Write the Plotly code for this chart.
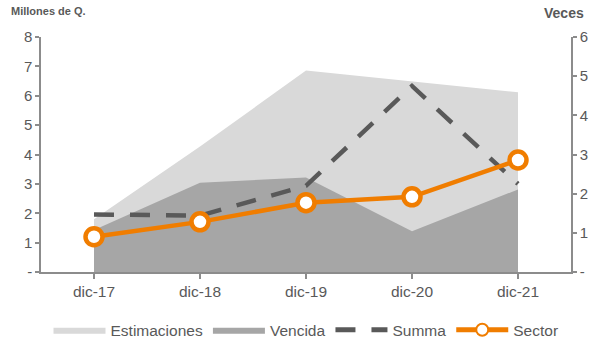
import plotly.graph_objects as go

# Periods and series
periodos = ["dic-17", "dic-18", "dic-19", "dic-20", "dic-21"]
estimaciones = [1.8, 4.27, 6.86, 6.49, 6.12]   # Millones de Q.
vencida = [1.43, 3.04, 3.22, 1.39, 2.81]       # Millones de Q.
summa = [1.47, 1.44, 2.2, 4.75, 2.25]          # Veces
sector = [0.9, 1.28, 1.77, 1.92, 2.86]         # Veces

left_ticks = [0, 1, 2, 3, 4, 5, 6, 7, 8]
left_labels = ["-", "1", "2", "3", "4", "5", "6", "7", "8"]
right_ticks = [0, 1, 2, 3, 4, 5, 6]
right_labels = ["-", "1", "2", "3", "4", "5", "6"]

GRIS_TEXTO = "#595959"
GRIS_EJE = "#8C8C8C"
NARANJA = "#F07D00"
FONT = "Liberation Sans, Arial, sans-serif"

fig = go.Figure()

fig.add_trace(go.Scatter(
    x=periodos, y=estimaciones, name="Estimaciones", mode="lines",
    fill="tozeroy", fillcolor="#D9D9D9", line=dict(width=0, color="#D9D9D9"),
))
fig.add_trace(go.Scatter(
    x=periodos, y=vencida, name="Vencida", mode="lines",
    fill="tozeroy", fillcolor="#A6A6A6", line=dict(width=0, color="#A6A6A6"),
))
fig.add_trace(go.Scatter(
    x=periodos, y=summa, name="Summa", mode="lines", yaxis="y2",
    line=dict(color="#595959", width=4.5, dash="20px,16px"),
))
fig.add_trace(go.Scatter(
    x=periodos, y=sector, name="Sector", mode="lines+markers", yaxis="y2",
    line=dict(color=NARANJA, width=4.5),
    marker=dict(size=17, color="white", line=dict(color=NARANJA, width=4.5)),
))

fig.update_layout(
    width=611, height=343,
    margin=dict(l=41, r=40, t=37, b=71, autoexpand=False),
    paper_bgcolor="white", plot_bgcolor="white",
    font=dict(family=FONT, size=15, color=GRIS_TEXTO),
    showlegend=True,
    legend=dict(
        orientation="h", x=0.5, xanchor="center", y=-0.175, yanchor="top",
        font=dict(size=15.5, color=GRIS_TEXTO), itemwidth=52,
        itemsizing="constant",
        traceorder="normal", tracegroupgap=0,
    ),
    xaxis=dict(
        type="category", range=[-0.5, 4.5],
        showline=True, linecolor=GRIS_EJE, linewidth=1.5,
        ticks="outside", ticklen=5, tickcolor=GRIS_EJE, tickwidth=1.5,
        showgrid=False, zeroline=False,
        tickfont=dict(size=15.5, color=GRIS_TEXTO),
    ),
    yaxis=dict(
        range=[0, 8], tickvals=left_ticks, ticktext=left_labels,
        showline=True, linecolor=GRIS_EJE, linewidth=1.5,
        ticks="outside", ticklen=4, tickcolor=GRIS_EJE, tickwidth=1.5,
        showgrid=False, zeroline=False,
        tickfont=dict(size=15, color=GRIS_TEXTO),
    ),
    yaxis2=dict(
        range=[0, 6], tickvals=right_ticks, ticktext=right_labels,
        overlaying="y", side="right",
        showline=True, linecolor=GRIS_EJE, linewidth=1.5,
        ticks="outside", ticklen=4, tickcolor=GRIS_EJE, tickwidth=1.5,
        showgrid=False, zeroline=False,
        tickfont=dict(size=15, color=GRIS_TEXTO),
    ),
    annotations=[
        dict(text="<b>Millones de Q.</b>", xref="paper", yref="paper",
             x=-0.06, y=1.075, xanchor="left", yanchor="bottom", showarrow=False,
             font=dict(size=11, color=GRIS_TEXTO)),
        dict(text="<b>Veces</b>", xref="paper", yref="paper",
             x=1.028, y=1.06, xanchor="right", yanchor="bottom", showarrow=False,
             font=dict(size=14, color=GRIS_TEXTO)),
    ],
)

fig.write_html("out.html")
